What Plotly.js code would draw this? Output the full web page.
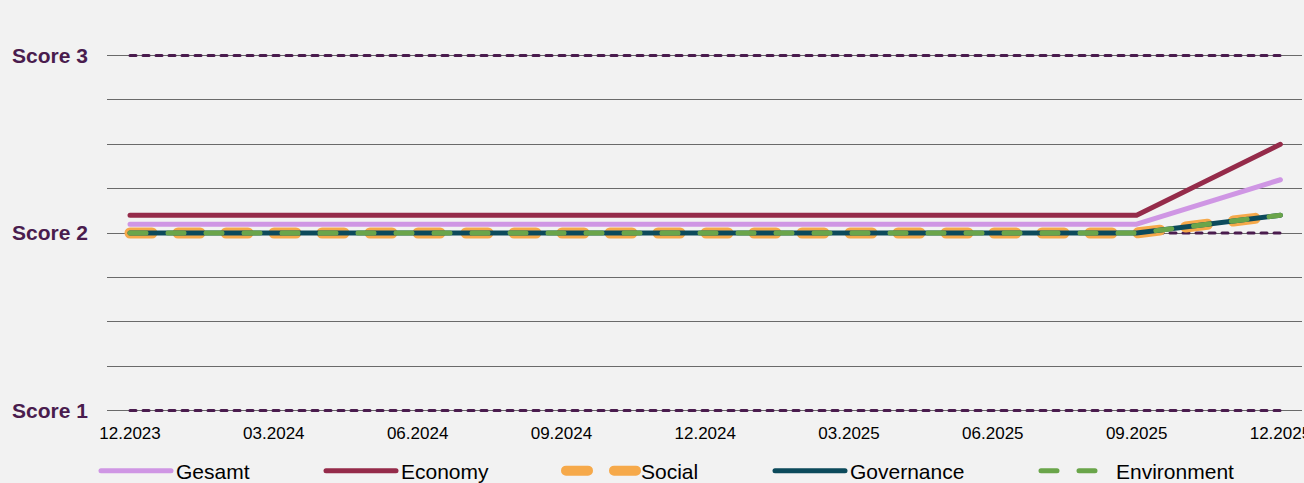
<!DOCTYPE html>
<html>
<head>
<meta charset="utf-8">
<script src="https://cdn.plot.ly/plotly-3.0.1.min.js"></script>
<style>
html,body{margin:0;padding:0;background:#f2f2f2;}
#chart{width:1304px;height:483px;}
path.js-line{stroke-linecap:round !important;stroke-linejoin:round !important;}
</style>
</head>
<body>
<div id="chart"></div>
<script>
// ---- data ----
var categories = ['12.2023','03.2024','06.2024','09.2024','12.2024','03.2025','06.2025','09.2025','12.2025'];
var gesamt      = [2.05, 2.05, 2.05, 2.05, 2.05, 2.05, 2.05, 2.05, 2.30];
var economy     = [2.10, 2.10, 2.10, 2.10, 2.10, 2.10, 2.10, 2.10, 2.50];
var social      = [2.00, 2.00, 2.00, 2.00, 2.00, 2.00, 2.00, 2.00, 2.10];
var governance  = [2.00, 2.00, 2.00, 2.00, 2.00, 2.00, 2.00, 2.00, 2.10];
var environment = [2.00, 2.00, 2.00, 2.00, 2.00, 2.00, 2.00, 2.00, 2.10];
var refLevels = [1, 2, 3];
var yTickVals = [1, 1.25, 1.5, 1.75, 2, 2.25, 2.5, 2.75, 3];
var yTickText = ['Score 1', '', '', '', 'Score 2', '', '', '', 'Score 3'];

var traces = [];
refLevels.forEach(function (lv) {
  traces.push({
    x: categories, y: categories.map(function () { return lv; }),
    type: 'scatter', mode: 'lines', showlegend: false, hoverinfo: 'skip',
    line: {color: '#4a1c4e', width: 3, dash: '6px,7px'}
  });
});
traces.push({x: categories, y: gesamt, name: 'Gesamt', type: 'scatter', mode: 'lines',
  line: {color: '#cf96e4', width: 5}, legend: 'legend'});
traces.push({x: categories, y: economy, name: 'Economy', type: 'scatter', mode: 'lines',
  line: {color: '#952b4a', width: 5}, legend: 'legend2'});
traces.push({x: categories, y: social, name: 'Social', type: 'scatter', mode: 'lines',
  line: {color: '#f6a94a', width: 11, dash: '22px,26px'}, legend: 'legend3'});
traces.push({x: categories, y: governance, name: 'Governance', type: 'scatter', mode: 'lines',
  line: {color: '#0c4a5b', width: 5}, legend: 'legend4'});
traces.push({x: categories, y: environment, name: 'Environment', type: 'scatter', mode: 'lines',
  line: {color: '#6aa54a', width: 5, dash: '16px,22px'}, legend: 'legend5'});

function leg(xpx) {
  return {orientation: 'h', xref: 'container', yref: 'container', x: xpx / 1304, xanchor: 'left',
    y: 1 - 471 / 483, yanchor: 'middle', bgcolor: 'rgba(0,0,0,0)', itemwidth: 70,
    font: {family: 'Liberation Sans, Arial, sans-serif', size: 21, color: '#000'}};
}

var layout = {
  width: 1304, height: 483,
  paper_bgcolor: '#f2f2f2', plot_bgcolor: '#f2f2f2',
  margin: {l: 107, r: 2, t: 52.46, b: 69.46},
  font: {family: 'Liberation Sans, Arial, sans-serif'},
  xaxis: {
    type: 'category', range: [-0.16, 8.15], showgrid: false, zeroline: false, showline: false,
    ticks: '', automargin: false, ticklabelstandoff: 7,
    tickfont: {family: 'Liberation Sans, Arial, sans-serif', size: 17, color: '#000'}
  },
  yaxis: {
    range: [0.98, 3.02], tickmode: 'array', tickvals: yTickVals, ticktext: yTickText,
    showgrid: true, gridcolor: '#6a6a6a', gridwidth: 1, zeroline: false, showline: false,
    ticks: '', automargin: false, ticklabelstandoff: 18,
    tickfont: {family: 'Liberation Sans, Arial, sans-serif', size: 21, color: '#4a1c4e', weight: 'bold'}
  },
  showlegend: true,
  legend: leg(96), legend2: leg(321), legend3: leg(561), legend4: leg(770), legend5: leg(1036)
};

Plotly.newPlot('chart', traces, layout, {displayModeBar: false, staticPlot: true});
</script>
</body>
</html>
